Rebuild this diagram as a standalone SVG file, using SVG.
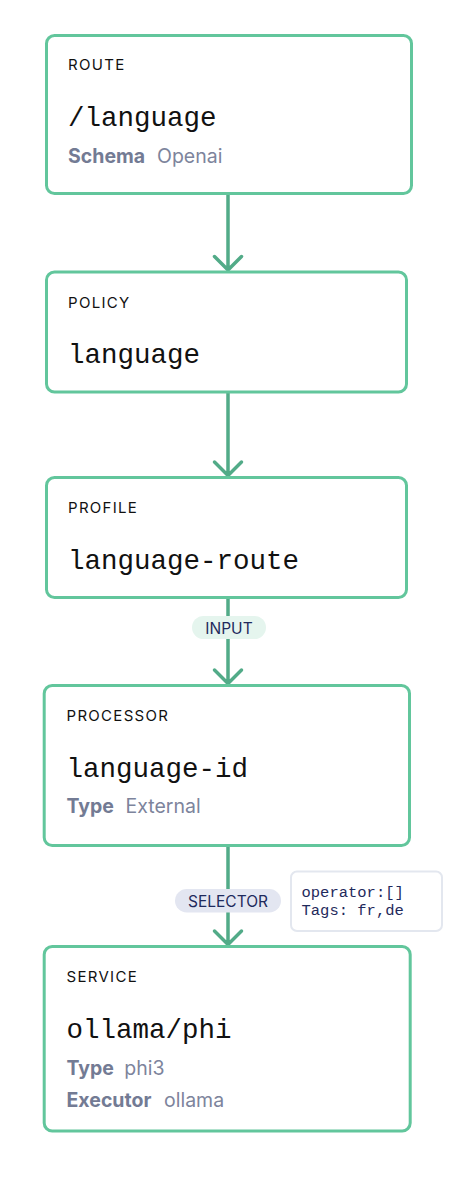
<svg xmlns="http://www.w3.org/2000/svg" width="470" height="1186" viewBox="0 0 470 1186">
<style>
.box{fill:#ffffff;stroke:#62c69c;stroke-width:3}
.kind{font-family:Inter,"Liberation Sans",sans-serif;font-size:15px;letter-spacing:1.3px;fill:#111111}
.name{font-family:"Liberation Mono","DejaVu Sans Mono",monospace;font-size:27.5px;fill:#111111}
.key{font-family:Inter,"Liberation Sans",sans-serif;font-size:19.5px;font-weight:700;fill:#737b94}
.val{font-family:Inter,"Liberation Sans",sans-serif;font-size:19.5px;fill:#7d849c}
.edge{stroke:#52ab88;stroke-width:3.5;fill:none;stroke-linecap:round;stroke-linejoin:round}
.pill-t{font-family:Inter,"Liberation Sans",sans-serif;font-size:15.5px;fill:#1f2a5c;text-anchor:middle}
.note-t{font-family:"Liberation Mono","DejaVu Sans Mono",monospace;font-size:15.5px;fill:#1f2a5c}
</style>
<rect width="470" height="1186" fill="#ffffff"/>
<g id="connectors">
  <path class="edge" d="M228 195 V269 M214.5 256.5 L228 270 L241.5 256.5"/>
  <path class="edge" d="M228 393 V475 M214.5 462 L228 475.5 L241.5 462"/>
  <path class="edge" d="M228 599 V683 M214.5 670 L228 683.5 L241.5 670"/>
  <path class="edge" d="M228 847 V944 M214.5 931 L228 944.5 L241.5 931"/>
  <g id="label-input">
    <rect x="192" y="616" width="74" height="23" rx="11.5" fill="#e5f5ee"/>
    <text class="pill-t" x="229" y="633.5">INPUT</text>
  </g>
  <g id="label-selector">
    <rect x="175" y="889" width="106" height="23.5" rx="11.75" fill="#e3e6f1"/>
    <text class="pill-t" x="228" y="906.5">SELECTOR</text>
  </g>
  <g id="note-selector">
    <rect x="291" y="871.5" width="151" height="59.5" rx="6" fill="#ffffff" stroke="#e3e7ef" stroke-width="2"/>
    <text class="note-t" x="301.5" y="896.5">operator:[]</text>
    <text class="note-t" x="301.5" y="915">Tags: fr,de</text>
  </g>
</g>
<g id="node-route">
  <rect class="box" x="46.5" y="35.5" width="365" height="158" rx="8"/>
  <text class="kind" x="68" y="70">ROUTE</text>
  <text class="name" x="68" y="126">/language</text>
  <text class="key" x="68" y="163.3">Schema</text>
  <text class="val" x="157" y="163.3">Openai</text>
</g>
<g id="node-policy">
  <rect class="box" x="46.5" y="272" width="360" height="120" rx="8"/>
  <text class="kind" x="68" y="307.7">POLICY</text>
  <text class="name" x="68" y="363.3">language</text>
</g>
<g id="node-profile">
  <rect class="box" x="46.5" y="477.5" width="360" height="120" rx="8"/>
  <text class="kind" x="68" y="513.3">PROFILE</text>
  <text class="name" x="68" y="569">language-route</text>
</g>
<g id="node-processor">
  <rect class="box" x="44.2" y="685.5" width="365.3" height="160" rx="8"/>
  <text class="kind" x="66.5" y="721">PROCESSOR</text>
  <text class="name" x="66.5" y="776.7">language-id</text>
  <text class="key" x="66.5" y="813.3">Type</text>
  <text class="val" x="125.5" y="813.3">External</text>
</g>
<g id="node-service">
  <rect class="box" x="44.2" y="946.5" width="366" height="184.5" rx="8"/>
  <text class="kind" x="66.5" y="982.3">SERVICE</text>
  <text class="name" x="66.5" y="1038.3">ollama/phi</text>
  <text class="key" x="66.5" y="1075">Type</text>
  <text class="val" x="124.3" y="1075">phi3</text>
  <text class="key" x="66.5" y="1106.7">Executor</text>
  <text class="val" x="164" y="1106.7">ollama</text>
</g>
</svg>
